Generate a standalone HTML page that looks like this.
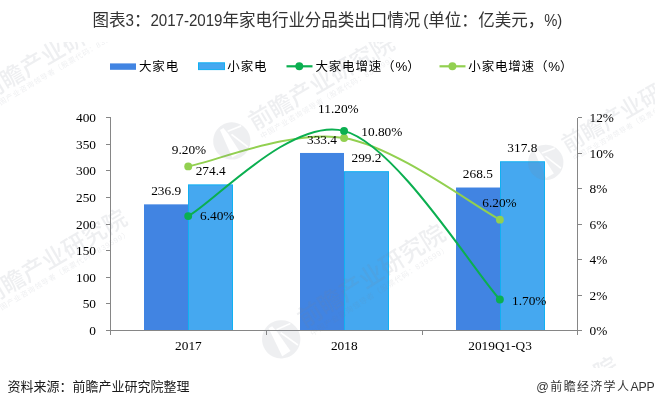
<!DOCTYPE html>
<html><head><meta charset="utf-8"><title>chart</title>
<style>
html,body{margin:0;padding:0;background:#fff;}
body{width:655px;height:407px;overflow:hidden;position:relative;}
svg{position:absolute;left:0;top:0;display:block;}
.t{font-family:"Liberation Sans","Noto Sans CJK SC",sans-serif;}
.s{font-family:"Liberation Serif","Noto Serif CJK SC",serif;font-size:13.33px;fill:#000;}
.wm{font-family:"Liberation Sans","Noto Sans CJK SC",sans-serif;fill:rgb(122,130,150);fill-opacity:0.13;}
</style></head><body>
<svg width="655" height="407" viewBox="0 0 655 407">
<defs><clipPath id="wmclip"><rect x="0" y="42" width="655" height="326"/></clipPath></defs>
<rect x="0" y="0" width="655" height="407" fill="#ffffff"/>

<text class="t" x="92.6" y="26.4" letter-spacing="-0.05" font-size="16.55" fill="#333333" font-weight="400">图表<tspan font-size="16.5" textLength="8.4" lengthAdjust="spacingAndGlyphs">3</tspan>：<tspan font-size="16.5" textLength="72" lengthAdjust="spacingAndGlyphs">2017-2019</tspan>年家电行业分品类出口情况<tspan font-size="16.5" dx="3" textLength="5" lengthAdjust="spacingAndGlyphs">(</tspan>单位：<tspan dx="0.5">亿美元，</tspan><tspan font-size="16.5" textLength="18" lengthAdjust="spacingAndGlyphs">%)</tspan></text>
<rect x="110" y="63.4" width="26" height="6.4" fill="#4184E2"/>
<text class="t" x="139" y="71" font-size="12.5" letter-spacing="0.83" fill="#000" font-weight="400">大家电</text>
<rect x="198.5" y="62.8" width="26" height="6.8" fill="#45A8F0" stroke="#10B0F2" stroke-width="1"/>
<text class="t" x="227.3" y="71" font-size="12.5" letter-spacing="0.83" fill="#000" font-weight="400">小家电</text>
<line x1="286.5" y1="66.3" x2="312.5" y2="66.3" stroke="#0BAF50" stroke-width="2.2"/><circle cx="299.3" cy="66.3" r="3.95" fill="#0BAF50"/>
<text class="t" x="315.4" y="71" font-size="12.5" letter-spacing="0.83" fill="#000" font-weight="400">大家电增速（<tspan font-size="13.3" letter-spacing="0">%</tspan>）</text>
<line x1="439.5" y1="66.3" x2="465.5" y2="66.3" stroke="#92D050" stroke-width="2.2"/><circle cx="452.4" cy="66.3" r="3.95" fill="#92D050"/>
<text class="t" x="468.3" y="71" font-size="12.5" letter-spacing="0.83" fill="#000" font-weight="400">小家电增速（<tspan font-size="13.3" letter-spacing="0">%</tspan>）</text>
<rect x="144.00" y="204.35" width="44.00" height="126.15" fill="#4184E2"/>
<rect x="188.50" y="184.88" width="44.00" height="145.62" fill="#45A8F0" stroke="#10B0F2" stroke-width="1"/>
<rect x="300.00" y="152.96" width="44.00" height="177.54" fill="#4184E2"/>
<rect x="344.50" y="171.68" width="44.00" height="158.82" fill="#45A8F0" stroke="#10B0F2" stroke-width="1"/>
<rect x="456.00" y="187.52" width="44.00" height="142.98" fill="#4184E2"/>
<rect x="500.50" y="161.77" width="44.00" height="168.73" fill="#45A8F0" stroke="#10B0F2" stroke-width="1"/>
<g stroke="#868686" stroke-width="1" fill="none" shape-rendering="crispEdges">
<line x1="110.5" y1="117.5" x2="110.5" y2="330.5"/>
<line x1="577.5" y1="117.5" x2="577.5" y2="330.5"/>
<line x1="110.5" y1="330.5" x2="577.5" y2="330.5"/>
<line x1="106" y1="330.50" x2="110.5" y2="330.50"/>
<line x1="106" y1="303.88" x2="110.5" y2="303.88"/>
<line x1="106" y1="277.25" x2="110.5" y2="277.25"/>
<line x1="106" y1="250.62" x2="110.5" y2="250.62"/>
<line x1="106" y1="224.00" x2="110.5" y2="224.00"/>
<line x1="106" y1="197.38" x2="110.5" y2="197.38"/>
<line x1="106" y1="170.75" x2="110.5" y2="170.75"/>
<line x1="106" y1="144.12" x2="110.5" y2="144.12"/>
<line x1="106" y1="117.50" x2="110.5" y2="117.50"/>
<line x1="577.5" y1="330.50" x2="582" y2="330.50"/>
<line x1="577.5" y1="295.00" x2="582" y2="295.00"/>
<line x1="577.5" y1="259.50" x2="582" y2="259.50"/>
<line x1="577.5" y1="224.00" x2="582" y2="224.00"/>
<line x1="577.5" y1="188.50" x2="582" y2="188.50"/>
<line x1="577.5" y1="153.00" x2="582" y2="153.00"/>
<line x1="577.5" y1="117.50" x2="582" y2="117.50"/>
<line x1="110.50" y1="330.5" x2="110.50" y2="335"/>
<line x1="266.33" y1="330.5" x2="266.33" y2="335"/>
<line x1="422.17" y1="330.5" x2="422.17" y2="335"/>
<line x1="577.50" y1="330.5" x2="577.50" y2="335"/>
</g>
<text class="s" x="96" y="335.00" text-anchor="end">0</text>
<text class="s" x="96" y="308.38" text-anchor="end">50</text>
<text class="s" x="96" y="281.75" text-anchor="end">100</text>
<text class="s" x="96" y="255.12" text-anchor="end">150</text>
<text class="s" x="96" y="228.50" text-anchor="end">200</text>
<text class="s" x="96" y="201.88" text-anchor="end">250</text>
<text class="s" x="96" y="175.25" text-anchor="end">300</text>
<text class="s" x="96" y="148.62" text-anchor="end">350</text>
<text class="s" x="96" y="122.00" text-anchor="end">400</text>
<text class="s" x="589.5" y="335.00">0%</text>
<text class="s" x="589.5" y="299.50">2%</text>
<text class="s" x="589.5" y="264.00">4%</text>
<text class="s" x="589.5" y="228.50">6%</text>
<text class="s" x="589.5" y="193.00">8%</text>
<text class="s" x="589.5" y="157.50">10%</text>
<text class="s" x="589.5" y="122.00">12%</text>
<text class="s" x="188.42" y="350.3" text-anchor="middle">2017</text>
<text class="s" x="344.25" y="350.3" text-anchor="middle">2018</text>
<text class="s" x="500.08" y="350.3" text-anchor="middle">2019Q1-Q3</text>
<path d="M188.22,166.40 C214.19,161.67 292.11,129.12 344.05,138.00 C395.99,146.87 473.91,206.04 499.88,219.65" fill="none" stroke="#92D050" stroke-width="2" stroke-linecap="round"/>
<path d="M188.22,216.10 C214.19,201.90 292.11,117.00 344.05,130.90 C395.99,144.80 473.91,271.42 499.88,299.52" fill="none" stroke="#0BAF50" stroke-width="2" stroke-linecap="round"/>
<circle cx="188.22" cy="166.40" r="3.95" fill="#92D050"/>
<circle cx="344.05" cy="138.00" r="3.95" fill="#92D050"/>
<circle cx="499.88" cy="219.65" r="3.95" fill="#92D050"/>
<circle cx="188.22" cy="216.10" r="3.95" fill="#0BAF50"/>
<circle cx="344.05" cy="130.90" r="3.95" fill="#0BAF50"/>
<circle cx="499.88" cy="299.52" r="3.95" fill="#0BAF50"/>
<text class="s" x="166.17" y="195.15" text-anchor="middle">236.9</text>
<text class="s" x="210.67" y="175.18" text-anchor="middle">274.4</text>
<text class="s" x="322.00" y="143.76" text-anchor="middle">333.4</text>
<text class="s" x="366.50" y="161.98" text-anchor="middle">299.2</text>
<text class="s" x="477.83" y="178.32" text-anchor="middle">268.5</text>
<text class="s" x="522.33" y="152.07" text-anchor="middle">317.8</text>
<text class="s" x="189" y="154.4" text-anchor="middle">9.20%</text>
<text class="s" x="200" y="219.8">6.40%</text>
<text class="s" x="338.4" y="113" text-anchor="middle">11.20%</text>
<text class="s" x="361.3" y="136.2">10.80%</text>
<text class="s" x="499.5" y="207.2" text-anchor="middle">6.20%</text>
<text class="s" x="512" y="304.6">1.70%</text>
<text class="t" x="7.5" y="391" font-size="13" fill="#1a1a1a">资料来源：前瞻产业研究院整理</text>
<text class="t" y="391" font-size="12" fill="#333"><tspan x="536.2" font-size="12.4">@</tspan><tspan x="550.3" letter-spacing="1.33">前瞻经济学人</tspan><tspan x="630.6" font-size="12.3" letter-spacing="-0.2">APP</tspan></text>
<g class="wm" clip-path="url(#wmclip)">
<g transform="translate(231,139) rotate(-30.5) scale(1)"><path transform="translate(-0.3,2.1)" fill-rule="evenodd" d="M0,-18.6 A18.6,18.6 0 1 1 -0.01,-18.6 Z M-4.6,-15.5 L-0.6,-15.5 L0.5,-8 L1.5,14.5 L-8,14.5 L-5.5,-8 Z M1.2,-11.2 L16,-9 L15.4,-7.4 L1.4,-9.6 Z M2.2,-5.5 L3.8,-6 L11.5,13 L10,13.8 Z"/><text x="24.5" y="5" font-size="23.5" font-weight="500">前瞻产业研究院</text><text x="27" y="15.8" font-size="7.3" letter-spacing="0.75">中国产业咨询领导者（股票代码：839599）</text></g>
<g transform="translate(545,160.5) rotate(-30) scale(0.95)"><path transform="translate(-0.3,2.1)" fill-rule="evenodd" d="M0,-18.6 A18.6,18.6 0 1 1 -0.01,-18.6 Z M-4.6,-15.5 L-0.6,-15.5 L0.5,-8 L1.5,14.5 L-8,14.5 L-5.5,-8 Z M1.2,-11.2 L16,-9 L15.4,-7.4 L1.4,-9.6 Z M2.2,-5.5 L3.8,-6 L11.5,13 L10,13.8 Z"/><text x="24.5" y="5" font-size="23.5" font-weight="500">前瞻产业研究院</text><text x="27" y="15.8" font-size="7.3" letter-spacing="0.75">中国产业咨询领导者（股票代码：839599）</text></g>
<g transform="translate(-37.5,109.5) rotate(-30.5) scale(1)"><path transform="translate(-0.3,2.1)" fill-rule="evenodd" d="M0,-18.6 A18.6,18.6 0 1 1 -0.01,-18.6 Z M-4.6,-15.5 L-0.6,-15.5 L0.5,-8 L1.5,14.5 L-8,14.5 L-5.5,-8 Z M1.2,-11.2 L16,-9 L15.4,-7.4 L1.4,-9.6 Z M2.2,-5.5 L3.8,-6 L11.5,13 L10,13.8 Z"/><text x="24.5" y="5" font-size="23.5" font-weight="500">前瞻产业研究院</text><text x="27" y="15.8" font-size="7.3" letter-spacing="0.75">中国产业咨询领导者（股票代码：839599）</text></g>
<g transform="translate(-36.5,314.5) rotate(-30.5) scale(1)"><path transform="translate(-0.3,2.1)" fill-rule="evenodd" d="M0,-18.6 A18.6,18.6 0 1 1 -0.01,-18.6 Z M-4.6,-15.5 L-0.6,-15.5 L0.5,-8 L1.5,14.5 L-8,14.5 L-5.5,-8 Z M1.2,-11.2 L16,-9 L15.4,-7.4 L1.4,-9.6 Z M2.2,-5.5 L3.8,-6 L11.5,13 L10,13.8 Z"/><text x="24.5" y="5" font-size="23.5" font-weight="500">前瞻产业研究院</text><text x="27" y="15.8" font-size="7.3" letter-spacing="0.75">中国产业咨询领导者（股票代码：839599）</text></g>
<g transform="translate(280.3,337.3) rotate(-32.3) scale(1.03)"><path transform="translate(-0.3,2.1)" fill-rule="evenodd" d="M0,-18.6 A18.6,18.6 0 1 1 -0.01,-18.6 Z M-4.6,-15.5 L-0.6,-15.5 L0.5,-8 L1.5,14.5 L-8,14.5 L-5.5,-8 Z M1.2,-11.2 L16,-9 L15.4,-7.4 L1.4,-9.6 Z M2.2,-5.5 L3.8,-6 L11.5,13 L10,13.8 Z"/><text x="24.5" y="5" font-size="23.5" font-weight="500">前瞻产业研究院</text><text x="27" y="15.8" font-size="7.3" letter-spacing="0.75">中国产业咨询领导者（股票代码：839599）</text></g>
<g transform="translate(455,462) rotate(-30.5) scale(1)"><path transform="translate(-0.3,2.1)" fill-rule="evenodd" d="M0,-18.6 A18.6,18.6 0 1 1 -0.01,-18.6 Z M-4.6,-15.5 L-0.6,-15.5 L0.5,-8 L1.5,14.5 L-8,14.5 L-5.5,-8 Z M1.2,-11.2 L16,-9 L15.4,-7.4 L1.4,-9.6 Z M2.2,-5.5 L3.8,-6 L11.5,13 L10,13.8 Z"/><text x="24.5" y="5" font-size="23.5" font-weight="500">前瞻产业研究院</text><text x="27" y="15.8" font-size="7.3" letter-spacing="0.75">中国产业咨询领导者（股票代码：839599）</text></g>
</g>
</svg></body></html>
